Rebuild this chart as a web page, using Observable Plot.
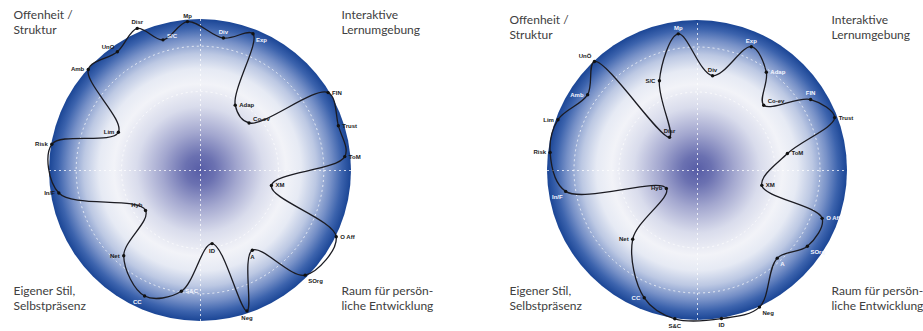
<!DOCTYPE html>
<html><head><meta charset="utf-8">
<script src="https://cdn.jsdelivr.net/npm/d3@7"></script>
<script src="https://cdn.jsdelivr.net/npm/@observablehq/plot@0.6"></script>
<style>
body{margin:0;background:#fff;}
#wrap{display:flex;width:923px;height:331px;overflow:hidden;}
</style></head><body><div id="wrap"></div>
<script>
// ---------- data ----------
const codesLeft  = ["Mp","Div","Exp","Adap","Co-ev","FIN","Trust","ToM","XM","O Aff","SOrg","A","Neg","ID","S&C","CC","Net","Hyb","In/F","Risk","Lim","Amb","UnO","Disr","S/C"];
const anglesLeft = [355, 9.8, 21, 28, 45.6, 58.6, 72, 84.5, 102, 116, 135, 147, 161.7, 171, 189, 204, 222, 234, 261, 280, 295, 312, 325, 336, 344];
const valuesLeft = [0.99, 0.89, 0.97, 0.49, 0.45, 0.99, 0.96, 0.96, 0.48, 1.0, 0.98, 0.63, 0.98, 0.49, 0.81, 0.91, 0.76, 0.45, 0.95, 1.0, 0.60, 1.0, 0.96, 1.03, 0.90];

const codesRight  = ["Mp","Div","Exp","Adap","Co-ev","FIN","Trust","ToM","XM","O Aff","SOrg","A","Neg","ID","S&C","CC","Net","Hyb","In/F","Risk","Lim","Amb","UnÖ","Disr","S/C"];
const anglesRight = [352, 9, 23.5, 35, 45.4, 57.9, 68.9, 79.3, 103, 111, 124.6, 137.7, 155.6, 170.8, 188.7, 202.7, 223.3, 240, 261, 277, 290, 304.6, 316.6, 320, 337];
const valuesRight = [0.92, 0.64, 0.90, 0.80, 0.62, 0.89, 0.98, 0.61, 0.44, 0.89, 0.89, 0.79, 1.0, 1.0, 1.0, 0.92, 0.63, 0.24, 0.89, 0.99, 0.99, 0.89, 1.0, 0.29, 0.65];

const cornerTop    = ["Offenheit /\nStruktur", "Interaktive\nLernumgebung"];
const cornerBottom = ["Eigener Stil,\nSelbstpräsenz", "Raum für persön-\nliche Entwicklung"];
const ringLevels = [0.52, 0.82];

// label placement (side) and tone per panel
const sideLeft  = ["n","n","se","e","ne","e","e","e","e","e","se","s","s","s","e","sw","w","nw","w","w","w","w","nw","n","ne"];
const toneLeft  = ["k","w","w","k","k","k","k","k","k","k","k","k","k","k","w","w","k","k","k","k","k","k","k","k","w"];
const sideRight = ["n","n","n","e","ne","n","e","e","e","e","se","se","se","s","s","w","w","w","sw","w","w","w","nw","n","w"];
const toneRight = ["w","k","w","w","k","w","k","k","k","w","w","w","k","k","k","w","k","k","w","k","k","w","k","k","k"];

// ---------- drawing ----------
const H = 331;
const offsets = {
  n:  {dx: 0,  dy: -6, textAnchor: "middle"},
  s:  {dx: 0,  dy: 7,  textAnchor: "middle"},
  e:  {dx: 4,  dy: 0,  textAnchor: "start"},
  w:  {dx: -4, dy: 0,  textAnchor: "end"},
  ne: {dx: 4,  dy: -4, textAnchor: "start"},
  nw: {dx: -3, dy: -5, textAnchor: "end"},
  se: {dx: 3,  dy: 6,  textAnchor: "start"},
  sw: {dx: -3, dy: 6,  textAnchor: "end"}
};
const stops = [
  [0, "#575da6"], [0.10, "#6b71b1"], [0.25, "#a3a7cf"], [0.42, "#d9dcec"],
  [0.57, "#f2f3f8"], [0.67, "#e6eaf4"], [0.77, "#bcc8e3"], [0.87, "#7690c7"],
  [0.94, "#3c63ad"], [1, "#1a4595"]
];

function disc(id) {
  return (index, scales) => {
    const g = d3.create("svg:g");
    const rg = g.append("defs").append("radialGradient").attr("id", id);
    stops.forEach(([o, c]) => rg.append("stop").attr("offset", o).attr("stop-color", c));
    const x0 = scales.x(0), y0 = scales.y(0);
    const rx = scales.x(1) - x0, ry = y0 - scales.y(1);
    g.append("ellipse").attr("cx", x0).attr("cy", y0).attr("rx", rx).attr("ry", ry)
      .attr("fill", `url(#${id})`);
    ringLevels.forEach(r => g.append("ellipse").attr("cx", x0).attr("cy", y0)
      .attr("rx", rx * r).attr("ry", ry * r).attr("fill", "none")
      .attr("stroke", "#ffffff").attr("stroke-opacity", 0.75)
      .attr("stroke-dasharray", "2,3").attr("stroke-width", 1));
    return g.node();
  };
}

function panel({codes, angles, values, sides, tones, width, cx, cy, R, id, topDy, botDy, leftX, rightX}) {
  const data = codes.map((c, i) => ({
    code: c, a: angles[i] * Math.PI / 180, v: values[i], side: sides[i], tone: tones[i]
  }));
  const X = d => d.v * Math.sin(d.a);
  const Y = d => d.v * Math.cos(d.a);
  const labelMarks = [];
  for (const s of Object.keys(offsets)) {
    for (const t of ["k", "w"]) {
      const sub = data.filter(d => d.side === s && d.tone === t);
      if (!sub.length) continue;
      labelMarks.push(Plot.text(sub, {
        x: X, y: Y, text: "code", ...offsets[s],
        fill: t === "k" ? "#1a1a1a" : "#f4f6ff",
        fontSize: 6, fontWeight: "bold", fontFamily: "Liberation Sans, Arial, sans-serif"
      }));
    }
  }
  const cornerStyle = {text: d => d, fill: "#404040", fontSize: 12, lineHeight: 1.22,
    fontFamily: "Lato, sans-serif", lineAnchor: "top", frameAnchor: "top-left", textAnchor: "start"};
  return Plot.plot({
    width, height: H, margin: 0,
    x: {axis: null, domain: [-cx / R, (width - cx) / R]},
    y: {axis: null, domain: [-(H - cy) / R, cy / R]},
    marks: [
      disc(id),
      Plot.ruleX([0], {y1: -1, y2: 1, stroke: "#ffffff", strokeOpacity: 0.75, strokeDasharray: "2,3"}),
      Plot.ruleY([0], {x1: -1, x2: 1, stroke: "#ffffff", strokeOpacity: 0.75, strokeDasharray: "2,3"}),
      Plot.line(data, {x: X, y: Y, curve: "catmull-rom-closed", stroke: "#1b1b22", strokeWidth: 1.3}),
      Plot.dot(data, {x: X, y: Y, r: 1.7, fill: "#111111"}),
      ...labelMarks,
      Plot.text([cornerTop[0]], {...cornerStyle, dx: leftX, dy: topDy}),
      Plot.text([cornerTop[1]], {...cornerStyle, dx: rightX, dy: topDy}),
      Plot.text([cornerBottom[0]], {...cornerStyle, dx: leftX, dy: botDy}),
      Plot.text([cornerBottom[1]], {...cornerStyle, dx: rightX, dy: botDy})
    ]
  });
}

const wrap = document.getElementById("wrap");
wrap.append(panel({codes: codesLeft, angles: anglesLeft, values: valuesLeft, sides: sideLeft, tones: toneLeft,
  width: 461, cx: 200, cy: 170, R: 151, id: "gL", topDy: 8, botDy: 284, leftX: 13, rightX: 341}));
wrap.append(panel({codes: codesRight, angles: anglesRight, values: valuesRight, sides: sideRight, tones: toneRight,
  width: 462, cx: 236, cy: 170, R: 150, id: "gR", topDy: 13, botDy: 284, leftX: 48, rightX: 370}));
</script></body></html>
